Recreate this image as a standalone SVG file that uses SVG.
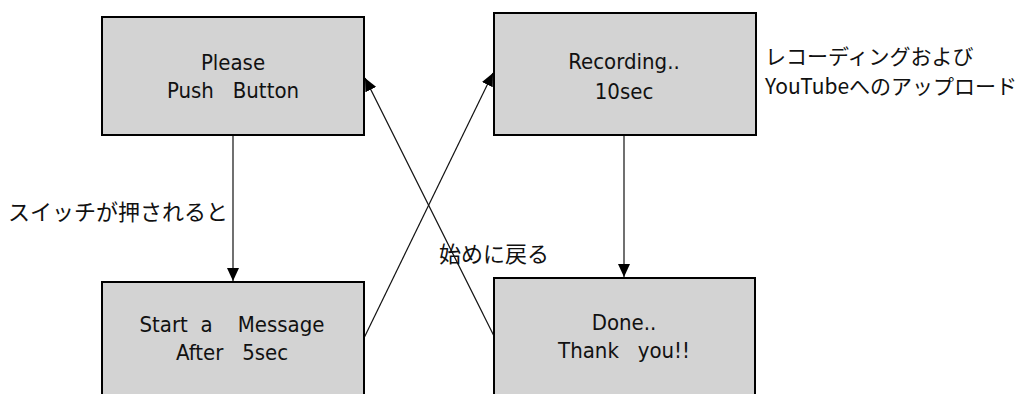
<svg xmlns="http://www.w3.org/2000/svg" width="1024" height="394" viewBox="0 0 1024 394">
  <defs>
    <style>
      .box { fill: #d3d3d3; stroke: #000; stroke-width: 2; }
      .t { font-family: "DejaVu Sans Condensed", "DejaVu Sans", sans-serif; font-size: 22px; fill: #111; text-anchor: middle; white-space: pre; }
      .jp { font-family: "Noto Sans CJK JP", sans-serif; font-size: 22px; fill: #111; }
      .jps { font-size: 21px; }
      .conn { stroke: #111; stroke-width: 1.2; fill: none; marker-end: url(#arrow); }
    </style>
    <marker id="arrow" markerUnits="userSpaceOnUse" markerWidth="13" markerHeight="12" refX="13" refY="6" orient="auto">
      <path d="M0,0 L13,6 L0,12 z" fill="#000"/>
    </marker>
  </defs>
  <rect width="1024" height="394" fill="#fff"/>

  <g id="connectors">
    <line class="conn" x1="233" y1="135" x2="233" y2="281"/>
    <line class="conn" x1="624" y1="135" x2="624" y2="277"/>
    <line class="conn" x1="364" y1="338" x2="493" y2="73"/>
    <line class="conn" x1="494" y1="336" x2="365" y2="78"/>
  </g>

  <g id="node-please">
    <rect class="box" x="102" y="17" width="262" height="118"/>
    <text class="t" x="233" y="70">Please</text>
    <text class="t" x="233" y="98" xml:space="preserve">Push   Button</text>
  </g>

  <g id="node-recording">
    <rect class="box" x="494" y="13" width="262" height="122"/>
    <text class="t" x="624" y="69">Recording..</text>
    <text class="t" x="624" y="99">10sec</text>
  </g>

  <g id="node-start">
    <rect class="box" x="102" y="282" width="262" height="130"/>
    <text class="t" x="232" y="332" xml:space="preserve">Start  a    Message</text>
    <text class="t" x="232" y="360" xml:space="preserve">After   5sec</text>
  </g>

  <g id="node-done">
    <rect class="box" x="494" y="278" width="261" height="134"/>
    <text class="t" x="624" y="330">Done..</text>
    <text class="t" x="624" y="358" xml:space="preserve">Thank   you!!</text>
  </g>

  <g id="labels">
    <text class="jp" x="8" y="220">スイッチが押されると</text>
    <text class="jp" x="439" y="262">始めに戻る</text>
    <text class="jp jps" x="765" y="64">レコーディングおよび</text>
    <text class="jp jps" x="765" y="94">YouTubeへのアップロード</text>
  </g>
</svg>
